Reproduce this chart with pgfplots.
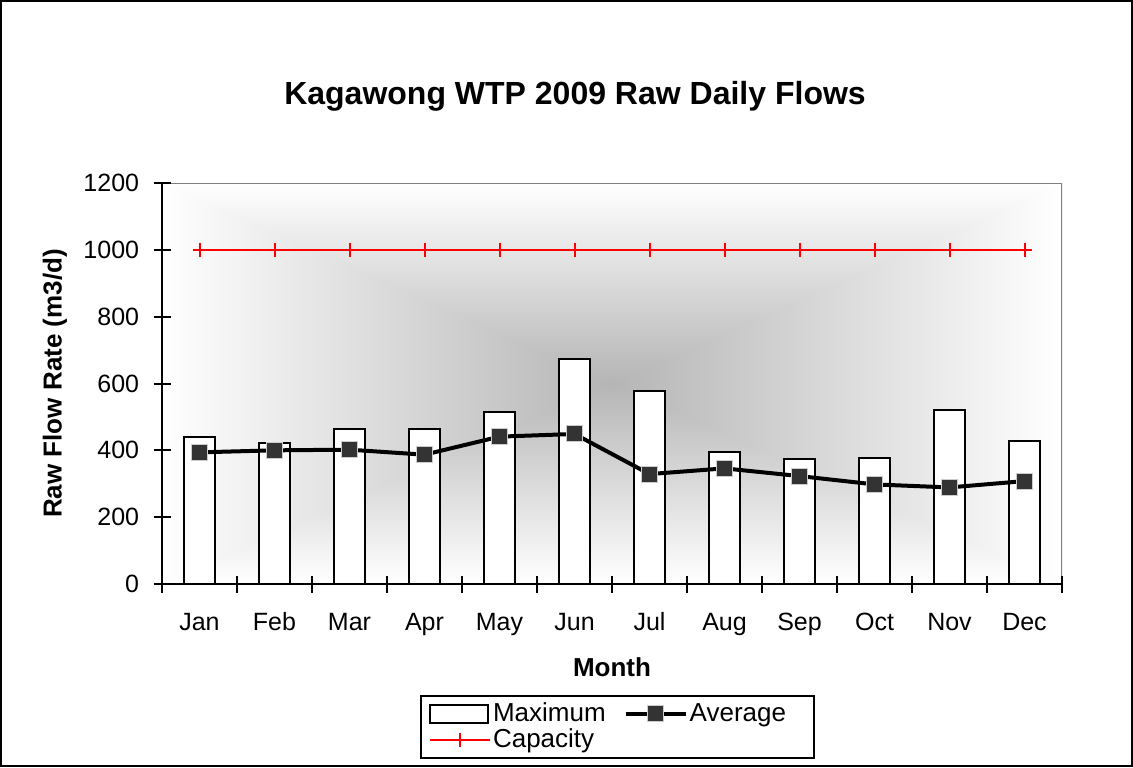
\documentclass[border=0pt]{standalone}
\usepackage{pgfplots}
\pgfplotsset{compat=1.18}
\usepackage{fontspec}
\setmainfont{Liberation Sans}
\definecolor{mk}{HTML}{333333}
\definecolor{frgray}{HTML}{808080}
\colorlet{bgc}{black!29}
\pgfplotsset{
  maxleg/.style={legend image code/.code={\draw[fill=white, draw=black, line width=1pt] (0pt,-4.5pt) rectangle (29pt,4.5pt);}},
  lineleg/.style={legend image code/.code={\draw[##1] (0pt,0pt) -- (30pt,0pt); \draw[##1] plot coordinates {(15pt,0pt)};}},
}
\begin{document}
\begin{tikzpicture}
\path[use as bounding box] (-81pt,-91.5pt) rectangle (485.5pt,292pt);
\draw[line width=1pt] (-80.5pt,-91pt) rectangle (485pt,291.5pt);
\begin{axis}[
  at={(0pt,0pt)}, anchor=south west,
  scale only axis, width=450pt, height=200.5pt,
  xmin=-0.5, xmax=11.5, ymin=0, ymax=1200,
  axis on top=true,
  axis x line*=bottom, axis y line*=left,
  axis line style={line width=1pt, black},
  ytick={0,200,...,1200},
  xtick={0,...,11},
  xticklabels={Jan,Feb,Mar,Apr,May,Jun,Jul,Aug,Sep,Oct,Nov,Dec},
  minor xtick={-0.5,0.5,...,11.5},
  major x tick style={draw=none},
  minor x tick style={line width=1pt, black, draw=black},
  y tick style={line width=1pt, black},
  tick align=center,
  major tick length=8.5pt, minor tick length=8.5pt,
  /pgf/number format/assume math mode=true,
  /pgf/number format/1000 sep={},
  ticklabel style={font=\fontsize{12.5}{14}\selectfont},
  yticklabel style={inner sep=0pt, xshift=-7pt},
  xticklabel style={anchor=base, inner sep=0pt, yshift=-19pt},
  legend columns=2,
  legend cell align=left,
  legend style={at={(0.2867,-0.2768)}, anchor=north west, draw=black, line width=1pt,
    font=\fontsize{13}{13}\selectfont, inner xsep=4pt, inner ysep=2.5pt,
    nodes={inner sep=1pt}, row sep=0pt,
    /tikz/every even column/.append style={column sep=8pt},
    /tikz/column 4/.append style={nodes={text width=57pt, align=left}}},
]
% background gradient (rectangular from centre)
\shade[left color=white, right color=bgc] (rel axis cs:0,0) rectangle (rel axis cs:0.5,1);
\shade[left color=bgc, right color=white] (rel axis cs:0.5,0) rectangle (rel axis cs:1,1);
\shade[top color=white, bottom color=bgc] (rel axis cs:0,1) -- (rel axis cs:1,1) -- (rel axis cs:0.5,0.5) -- cycle;
\shade[top color=bgc, bottom color=white] (rel axis cs:0,0) -- (rel axis cs:1,0) -- (rel axis cs:0.5,0.5) -- cycle;
\draw[frgray, line width=1pt] (rel axis cs:0,1) -- (rel axis cs:1,1) -- (rel axis cs:1,0);
\addplot[ybar, bar width=15.5pt, fill=white, draw=black, line width=1pt, maxleg]
  coordinates {(0,440) (1,423) (2,463) (3,465) (4,515) (5,674) (6,577) (7,395) (8,373) (9,378) (10,521) (11,427)};
\addlegendentry{Maximum}
\addplot[black, line width=2pt, mark=square*, mark size=4pt,
  mark options={fill=mk, draw=white!80!black, line width=0.5pt}, lineleg]
  coordinates {(0,394) (1,400) (2,402) (3,387) (4,441) (5,449) (6,329) (7,346) (8,323) (9,298) (10,289) (11,308)};
\addlegendentry{Average}
\addplot[red, line width=1pt, mark=+, mark size=3.5pt, mark options={line width=1pt}, lineleg]
  coordinates {(0,1000) (1,1000) (2,1000) (3,1000) (4,1000) (5,1000) (6,1000) (7,1000) (8,1000) (9,1000) (10,1000) (11,1000)};
\addlegendentry{Capacity}
\end{axis}
\node[font=\bfseries\fontsize{16}{19}\selectfont] at (206.5pt,244pt) {Kagawong WTP 2009 Raw Daily Flows};
\node[font=\bfseries\fontsize{13}{15}\selectfont, rotate=90] at (-53.5pt,100.25pt) {Raw Flow Rate (m3/d)};
\node[font=\bfseries\fontsize{13}{15}\selectfont] at (225pt,-41.5pt) {Month};
\end{tikzpicture}
\end{document}
